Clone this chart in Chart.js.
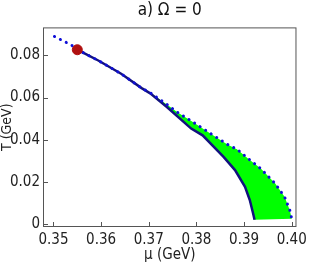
<!DOCTYPE html>
<html lang="en">
<head>
    <meta charset="UTF-8">
    <title>a) Ω = 0</title>
    <style>
        html, body { margin: 0; padding: 0; background: #fff; }
        #grafico { width: 311px; height: 273px; }
    </style>
    <script src="https://cdn.jsdelivr.net/npm/chart.js"></script>
</head>
<body>
    <div id="grafico"><canvas id="canvas"></canvas></div>
    <script>
        // curva solida (do ponto vermelho ate T ~ 0)
        const muSolida = [0.3550, 0.3560, 0.3594, 0.3642, 0.3685, 0.3703, 0.3738, 0.3789, 0.3813, 0.3857, 0.3881, 0.3902, 0.3912, 0.3919, 0.3922];
        const tSolida  = [0.0827, 0.0816, 0.0776, 0.0713, 0.0645, 0.0620, 0.0555, 0.0453, 0.0421, 0.0319, 0.0256, 0.0177, 0.0114, 0.0050, 0.0020];

        // curva pontilhada
        const muPontos = [0.3502, 0.3530, 0.3550, 0.3560, 0.3594, 0.3642, 0.3685, 0.3703, 0.3741, 0.3760, 0.3790, 0.3830, 0.3865, 0.3885, 0.3910, 0.3935, 0.3965, 0.3985, 0.3996, 0.4000];
        const tPontos  = [0.0890, 0.0858, 0.0833, 0.0816, 0.0776, 0.0713, 0.0645, 0.0623, 0.0563, 0.0530, 0.0488, 0.0429, 0.0378, 0.0355, 0.0308, 0.0263, 0.0193, 0.0129, 0.0066, 0.0025];

        // ponto vermelho
        const muPonto = [0.3550];
        const tPonto  = [0.0827];

        const xTicks = [0.35, 0.36, 0.37, 0.38, 0.39, 0.40];
        const yTicks = [0, 0.02, 0.04, 0.06, 0.08];

        const inicioVerde = 0.3703;

        function pares(mu, t) {
            return mu.map((m, i) => ({ x: m, y: t[i] }));
        }

        // poligono verde: solida descendo + pontilhada subindo
        const ptsSolida = pares(muSolida, tSolida);
        const ptsPontos = pares(muPontos, tPontos);
        const ptsVerde = ptsSolida.filter(p => p.x >= inicioVerde)
            .concat(ptsPontos.filter(p => p.x >= inicioVerde).reverse());

        const fonte = '"Liberation Sans Narrow", "DejaVu Sans Condensed", "Liberation Sans", sans-serif';

        // moldura e marcas para dentro
        const moldura = {
            id: 'moldura',
            afterDraw(chart) {
                const { ctx, chartArea: a, scales } = chart;
                ctx.save();
                ctx.strokeStyle = '#555';
                ctx.lineWidth = 1;
                ctx.strokeRect(a.left + 0.5, a.top + 0.5, a.right - a.left - 1, a.bottom - a.top - 1);
                ctx.beginPath();
                xTicks.forEach(v => {
                    const px = Math.round(scales.x.getPixelForValue(v)) + 0.5;
                    ctx.moveTo(px, a.bottom);
                    ctx.lineTo(px, a.bottom - 5);
                });
                yTicks.forEach(v => {
                    const py = Math.round(scales.y.getPixelForValue(v)) + 0.5;
                    ctx.moveTo(a.left, py);
                    ctx.lineTo(a.left + 5, py);
                });
                ctx.stroke();
                ctx.restore();
            }
        };

        new Chart(document.getElementById('canvas'), {
            type: 'scatter',
            data: {
                datasets: [
                    {
                        data: ptsVerde,
                        showLine: true,
                        borderWidth: 0,
                        borderColor: 'rgba(0,0,0,0)',
                        backgroundColor: '#00ff00',
                        fill: 'shape',
                        pointRadius: 0,
                        order: 4
                    },
                    {
                        data: ptsSolida,
                        showLine: true,
                        borderColor: '#12127e',
                        borderWidth: 2.5,
                        pointRadius: 0,
                        fill: false,
                        order: 3
                    },
                    {
                        data: ptsPontos,
                        showLine: true,
                        borderColor: '#1010d8',
                        borderWidth: 3,
                        borderDash: [0.1, 6.5],
                        borderCapStyle: 'round',
                        pointRadius: 0,
                        fill: false,
                        order: 2
                    },
                    {
                        data: pares(muPonto, tPonto),
                        pointRadius: 5,
                        pointBackgroundColor: '#b01010',
                        pointBorderColor: '#b01010',
                        order: 1
                    }
                ]
            },
            options: {
                responsive: true,
                maintainAspectRatio: false,
                animation: false,
                events: [],
                layout: { padding: { left: 0, right: 8, top: 0, bottom: 0 } },
                plugins: {
                    legend: { display: false },
                    tooltip: { enabled: false },
                    title: {
                        display: true,
                        text: 'a) Ω = 0',
                        fullSize: false,
                        color: '#111',
                        font: { family: fonte, size: 17, weight: 'normal' },
                        padding: { top: 0, bottom: 7 }
                    }
                },
                scales: {
                    x: {
                        type: 'linear',
                        min: 0.3478,
                        max: 0.401,
                        afterBuildTicks: s => { s.ticks = xTicks.map(v => ({ value: v })); },
                        afterFit: s => { s.height = 46; },
                        grid: { display: false, drawTicks: false },
                        border: { display: false },
                        ticks: {
                            padding: 4,
                            color: '#222',
                            maxRotation: 0,
                            font: { family: fonte, size: 15 },
                            callback: v => v.toFixed(2)
                        },
                        title: {
                            display: true,
                            text: 'μ (GeV)',
                            color: '#222',
                            font: { family: fonte, size: 15 },
                            padding: { top: 0, bottom: 9 }
                        }
                    },
                    y: {
                        type: 'linear',
                        min: -0.0014,
                        max: 0.0933,
                        afterBuildTicks: s => { s.ticks = yTicks.map(v => ({ value: v })); },
                        afterFit: s => { s.width = 43; },
                        grid: { display: false, drawTicks: false },
                        border: { display: false },
                        ticks: {
                            padding: 3,
                            color: '#222',
                            font: { family: fonte, size: 15 },
                            callback: v => v === 0 ? '0' : v.toFixed(2)
                        },
                        title: {
                            display: true,
                            text: 'T (GeV)',
                            color: '#222',
                            font: { family: fonte, size: 14, lineHeight: 1 },
                            padding: { top: 0, bottom: 0 }
                        }
                    }
                }
            },
            plugins: [moldura]
        });
    </script>
</body>
</html>
